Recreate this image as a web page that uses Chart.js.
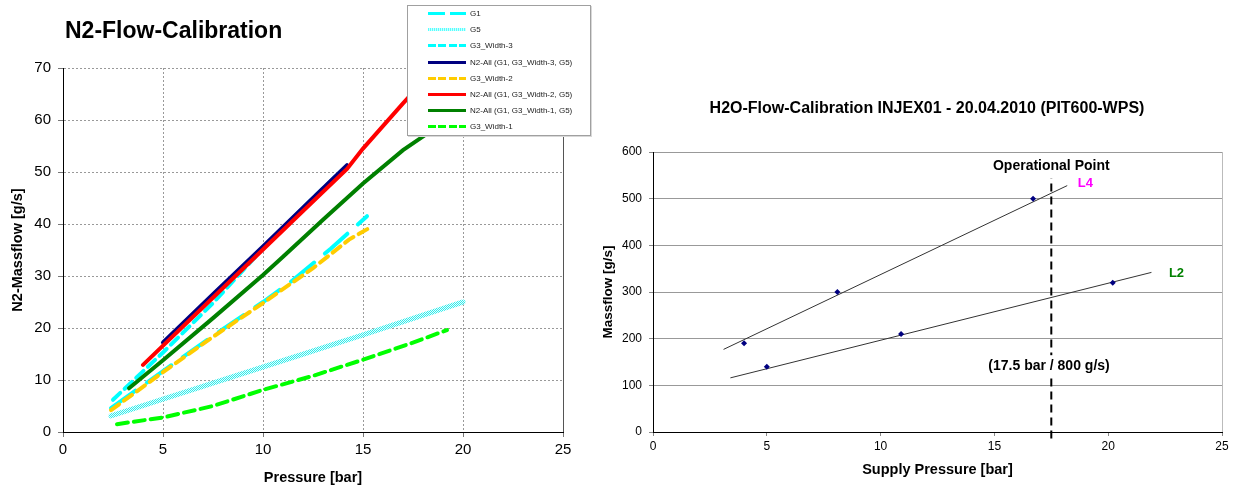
<!DOCTYPE html>
<html>
<head>
<meta charset="utf-8">
<script src="https://cdn.jsdelivr.net/npm/chart.js@4.4.0/dist/chart.umd.min.js"></script>
<style>
  body { margin: 0; background: #fff; font-family: Arial, "Liberation Sans", sans-serif; }
  #wrap { position: relative; width: 1236px; height: 488px; overflow: hidden; }
  #c1 { position: absolute; left: 0; top: 0; }
  #c2 { position: absolute; left: 600px; top: 0; }
  .title { position: absolute; font-weight: bold; white-space: nowrap; color: #000; }
  #legend { position: absolute; left: 407px; top: 5px; width: 182px; height: 129px;
            border: 1px solid #a0a0a0; background: #fff; box-shadow: 1px 1px 0 #d8d8d8; }
  .row { position: absolute; left: 0; width: 182px; height: 12px; }
  .sample { position: absolute; left: 20px; top: 4px; width: 38px; height: 3px; }
  .lbl { position: absolute; left: 62px; top: 0; font-size: 8px; line-height: 12px; color: #222; white-space: nowrap; }
</style>
</head>
<body>
<div id="wrap">
  <canvas id="c1" width="600" height="488"></canvas>
  <canvas id="c2" width="636" height="488"></canvas>
  <div class="title" style="left:65px;top:16px;font-size:23px;line-height:28px;">N2-Flow-Calibration</div>
  <div class="title" style="left:627px;top:99px;width:600px;text-align:center;font-size:16px;line-height:18px;">H2O-Flow-Calibration INJEX01 - 20.04.2010 (PIT600-WPS)</div>
  <div id="legend"></div>
</div>
<script>
// ---- N2 flow calibration (left chart) ----
const g1P = [2.4, 5, 7.5, 10, 11.5, 13.4, 15.2];
const g1M = [4.6, 11.7, 18.5, 25.0, 29.2, 35.3, 41.5];

const g5P = [2.4, 5, 10, 15, 20];
const g5M = [3.1, 6.3, 12.5, 18.7, 25.0];

const g3w3P = [2.5, 5, 7.5, 10, 12.5, 14];
const g3w3M = [6.2, 15.3, 24.8, 35.3, 45.0, 50.5];

const n2w3P = [5, 7.5, 10, 12.5, 14.2];
const n2w3M = [17.2, 26.5, 35.7, 45.0, 51.3];

const g3w2P = [2.4, 5, 7.5, 10, 12.5, 14.3, 15.3];
const g3w2M = [4.2, 11.5, 18.3, 24.8, 31.5, 37.0, 39.2];

const n2w2P = [4, 7, 10, 12, 14.2, 15, 17, 18.5];
const n2w2M = [12.9, 24.0, 35.1, 42.5, 50.6, 54.5, 63.2, 69.5];

const n2w1P = [3.3, 5, 7.5, 10, 11, 13, 15, 17, 18.1, 20];
const n2w1M = [8.4, 13.8, 21.9, 30.2, 33.7, 40.8, 47.8, 54.2, 57.1, 61.5];

const g3w1P = [2.7, 5, 7.5, 10, 12.5, 15, 17.5, 19.2];
const g3w1M = [1.5, 2.8, 5.0, 8.1, 10.8, 13.9, 17.2, 19.6];

const n2Names = ['G1', 'G5', 'G3_Width-3', 'N2-All (G1, G3_Width-3, G5)', 'G3_Width-2',
                 'N2-All (G1, G3_Width-2, G5)', 'N2-All (G1, G3_Width-1, G5)', 'G3_Width-1'];

// ---- H2O flow calibration (right chart) ----
const h2oP = [4.0, 5.0, 8.1, 10.9, 16.7, 20.2];
const h2oM = [190, 140, 300, 210, 500, 320];
const l4P = [3.1, 18.2];
const l4M = [177, 528];
const l2P = [3.4, 21.9];
const l2M = [116, 342];
const opP = [17.5, 17.5];
const opM = [-14, 544];

const xTicks = [0, 5, 10, 15, 20, 25];

function pts(xs, ys) { return xs.map((x, i) => ({ x: x, y: ys[i] })); }

// checker pattern for the G5 line
const pc = document.createElement('canvas');
pc.width = 2; pc.height = 2;
const pctx = pc.getContext('2d');
pctx.fillStyle = '#e6ffff'; pctx.fillRect(0, 0, 2, 2);
pctx.fillStyle = '#33eaea'; pctx.fillRect(0, 0, 1, 1); pctx.fillRect(1, 1, 1, 1);
const g5Pattern = pctx.createPattern(pc, 'repeat');

const styles = [
  { color: '#00ffff', dash: [30, 14], width: 4 },
  { color: g5Pattern, dash: [], width: 5 },
  { color: '#00ffff', dash: [10, 6], width: 4 },
  { color: '#000080', dash: [], width: 4 },
  { color: '#ffcc00', dash: [10, 6], width: 4 },
  { color: '#ff0000', dash: [], width: 4 },
  { color: '#008000', dash: [], width: 4 },
  { color: '#00ff00', dash: [11, 6], width: 4 }
];
const series = [[g1P, g1M], [g5P, g5M], [g3w3P, g3w3M], [n2w3P, n2w3M], [g3w2P, g3w2M],
                [n2w2P, n2w2M], [n2w1P, n2w1M], [g3w1P, g3w1M]];

// Excel draws later series on top; Chart.js draws dataset 0 on top
const n2Sets = series.map((s, i) => ({
  label: n2Names[i],
  data: pts(s[0], s[1]),
  showLine: true,
  borderColor: styles[i].color,
  borderWidth: styles[i].width,
  borderDash: styles[i].dash,
  borderCapStyle: 'round',
  pointRadius: 0,
  tension: 0
})).reverse();

// legend (html overlay, covers the chart like the original)
const legend = document.getElementById('legend');
const legendSample = [
  'repeating-linear-gradient(90deg,#00ffff 0 17px,transparent 17px 22px)',
  'repeating-linear-gradient(90deg,#5ff 0 1px,#cff 1px 2px)',
  'repeating-linear-gradient(90deg,#00ffff 0 8px,transparent 8px 10.5px)',
  '#000080',
  'repeating-linear-gradient(90deg,#ffcc00 0 8px,transparent 8px 10.5px)',
  '#ff0000',
  '#008000',
  'repeating-linear-gradient(90deg,#00ff00 0 8px,transparent 8px 10.5px)'
];
n2Names.forEach((name, i) => {
  const row = document.createElement('div');
  row.className = 'row';
  row.style.top = (2 + i * 16.2) + 'px';
  const s = document.createElement('div');
  s.className = 'sample';
  s.style.background = legendSample[i];
  const t = document.createElement('div');
  t.className = 'lbl';
  t.textContent = name;
  row.appendChild(s); row.appendChild(t);
  legend.appendChild(row);
});

const rightEdge = {
  id: 'rightEdge',
  afterDraw(chart, args, opts) {
    const a = chart.chartArea, ctx = chart.ctx;
    ctx.save();
    ctx.strokeStyle = opts.color;
    ctx.lineWidth = 1;
    ctx.beginPath();
    ctx.moveTo(Math.round(a.right) + 0.5, a.top);
    ctx.lineTo(Math.round(a.right) + 0.5, a.bottom);
    ctx.stroke();
    ctx.restore();
  }
};

new Chart(document.getElementById('c1'), {
  type: 'scatter',
  data: { datasets: n2Sets },
  plugins: [rightEdge],
  options: {
    responsive: false,
    animation: false,
    layout: { padding: { left: 0, right: 37, top: 68, bottom: 0 } },
    plugins: { legend: { display: false }, tooltip: { enabled: false }, rightEdge: { color: '#555' } },
    scales: {
      x: {
        type: 'linear', min: 0, max: 25,
        afterBuildTicks: s => { s.ticks = xTicks.map(v => ({ value: v })); },
        ticks: { color: '#000', font: { size: 15, family: 'Arial' }, padding: 4, maxRotation: 0 },
        grid: { color: '#999', tickColor: '#777', tickLength: 5 },
        border: { color: '#000', width: 1, dash: [2, 2] },
        title: { display: true, text: 'Pressure [bar]', color: '#000', font: { size: 14.5, weight: 'bold', family: 'Arial' }, padding: { top: 0, bottom: 1 } },
        afterFit: s => { s.height = 56; }
      },
      y: {
        min: 0, max: 70,
        ticks: { stepSize: 10, color: '#000', font: { size: 15, family: 'Arial' }, padding: 7 },
        grid: { color: '#999', tickColor: '#777', tickLength: 5 },
        border: { color: '#000', width: 1, dash: [2, 2] },
        title: { display: true, text: 'N2-Massflow [g/s]', color: '#000', font: { size: 14.5, weight: 'bold', family: 'Arial' }, padding: { top: 9, bottom: 0 } },
        afterFit: s => { s.width = 63; }
      }
    }
  }
});

// annotations in data units
const noteText = ['Operational Point', 'L4', 'L2', '(17.5 bar / 800 g/s)'];
const noteAt = [[17.5, 570], [19.0, 533], [23.0, 339], [17.4, 141]];
const noteColor = ['#000', '#ff00ff', '#008000', '#000'];
const noteSize = [14, 13, 13, 14];

const notes = {
  id: 'notes',
  afterDatasetsDraw(chart) {
    const ctx = chart.ctx, x = chart.scales.x, y = chart.scales.y;
    ctx.save();
    ctx.textAlign = 'center';
    ctx.textBaseline = 'middle';
    noteText.forEach((t, i) => {
      ctx.font = 'bold ' + noteSize[i] + 'px Arial';
      const px = x.getPixelForValue(noteAt[i][0]), py = y.getPixelForValue(noteAt[i][1]);
      if (i === 3) {
        const w = ctx.measureText(t).width;
        ctx.fillStyle = '#fff';
        ctx.fillRect(px - w / 2 - 3, py - 11, w + 6, 22);
      }
      ctx.fillStyle = noteColor[i];
      ctx.fillText(t, px, py);
    });
    ctx.restore();
  }
};

new Chart(document.getElementById('c2'), {
  type: 'scatter',
  data: {
    datasets: [
      { label: 'Messpunkte', data: pts(h2oP, h2oM), pointStyle: 'rectRot', pointRadius: 3,
        backgroundColor: '#000080', borderColor: '#000080', borderWidth: 0 },
      { label: 'L4', data: pts(l4P, l4M), showLine: true, borderColor: '#333', borderWidth: 1, pointRadius: 0 },
      { label: 'L2', data: pts(l2P, l2M), showLine: true, borderColor: '#333', borderWidth: 1, pointRadius: 0 },
      { label: 'Operational Point', data: pts(opP, opM), showLine: true, borderColor: '#000', borderWidth: 2,
        borderDash: [8, 5], pointRadius: 0, clip: false }
    ]
  },
  plugins: [rightEdge, notes],
  options: {
    responsive: false,
    animation: false,
    layout: { padding: { left: 0, right: 14, top: 152, bottom: 0 } },
    plugins: { legend: { display: false }, tooltip: { enabled: false }, rightEdge: { color: '#bbb' } },
    scales: {
      x: {
        type: 'linear', min: 0, max: 25,
        afterBuildTicks: s => { s.ticks = xTicks.map(v => ({ value: v })); },
        ticks: { color: '#000', font: { size: 12, family: 'Arial' }, padding: 3, maxRotation: 0 },
        grid: { drawOnChartArea: false, tickColor: '#888', tickLength: 4 },
        border: { color: '#000', width: 1 },
        title: { display: true, text: 'Supply Pressure [bar]', color: '#000', font: { size: 14.5, weight: 'bold', family: 'Arial' }, padding: { top: 0, bottom: 9 } },
        afterFit: s => { s.height = 56; }
      },
      y: {
        min: 0, max: 600,
        ticks: { stepSize: 100, color: '#000', font: { size: 12, family: 'Arial' }, padding: 7 },
        grid: { color: '#999', tickColor: '#888', tickLength: 4 },
        border: { color: '#000', width: 1 },
        title: { display: true, text: 'Massflow [g/s]', color: '#000', font: { size: 13.5, weight: 'bold', family: 'Arial' }, padding: { top: 0, bottom: 0 } },
        afterFit: s => { s.width = 53; }
      }
    }
  }
});
</script>
</body>
</html>
